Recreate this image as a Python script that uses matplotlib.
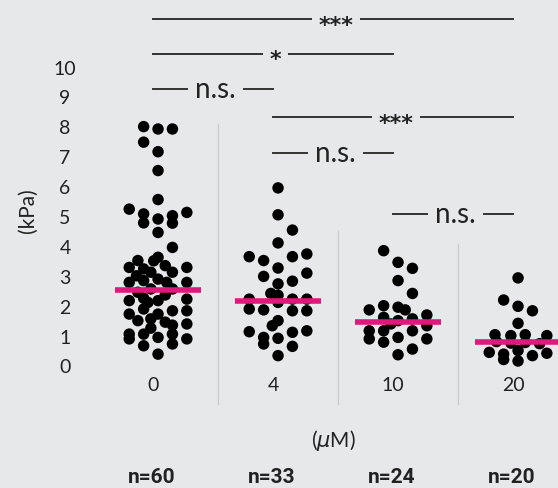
# Stiffness per concentration - dot plot with medians and significance bars

import matplotlib
matplotlib.use('Agg')
import matplotlib.pyplot as plt
import numpy as np

plt.rcParams['font.family'] = ['Lato', 'DejaVu Sans']
plt.rcParams['mathtext.fontset'] = 'dejavusans'

# Data
categories = ['0', '4', '10', '20']
n_labels = ['n=60', 'n=33', 'n=24', 'n=20']
y_ticks = [0, 1, 2, 3, 4, 5, 6, 7, 8, 9, 10]

# kPa values of each dot and its lane in the spread (lane -2 .. 2)
vals_0 = [8.04, 7.96, 7.96, 7.52, 7.20, 6.57, 5.60, 5.28, 5.12, 4.82, 4.95, 5.06,
          4.81, 5.17, 4.50, 4.00, 3.67, 3.56, 3.33, 3.28, 3.17, 3.39, 3.17, 3.33,
          2.83, 2.89, 2.94, 2.83, 2.83, 2.50, 2.61, 2.61, 2.22, 2.16, 2.22, 2.27,
          1.77, 1.94, 1.77, 1.88, 1.88, 1.55, 1.61, 1.50, 1.44, 1.10, 0.94, 1.10,
          0.71, 0.99, 1.10, 0.77, 0.94, 0.43, 2.41, 2.30, 3.55, 1.30, 1.40, 3.05]
lane_0 = [-1, 0, 1, -1, 0, 0, 0, -2, -1, -1, 0, 1,
          1, 2, 0, 1, 0, -1.4, -2, -1, -0.5, 0.5, 1, 2,
          -2, -1, 0, 0.6, 2, -1.4, -0.5, 1, -2, -0.7, 0, 2,
          -2, -1, 0, 1, 2, -1.4, -0.5, 0.5, 2, -2, -2, -1,
          -1, 0, 1, 1, 2, 0, 0.5, -1, -0.3, -0.5, 1, -1.5]

vals_4 = [5.99, 5.09, 4.58, 4.15, 3.69, 3.56, 3.69, 3.78, 3.31, 3.03, 3.14,
          2.87, 2.78, 2.46, 2.27, 2.16, 2.27, 2.27, 1.94, 1.91, 1.88, 1.88,
          1.55, 1.38, 1.18, 0.99, 0.77, 0.96, 1.16, 1.21, 0.69, 0.38, 2.40]
lane_4 = [0, 0, 1, 0, -2, -1, 1, 2, 0, -1, 2,
          1, 0, -0.5, -2, 0, 1, 2, -2, -1, 1, 2,
          0, -0.4, -2, -1, -1, 0, 1, 2, 1, 0, 0]

vals_10 = [3.89, 3.50, 3.30, 2.89, 2.46, 1.91, 2.05, 2.00, 1.91, 1.66, 1.55, 1.61,
           1.74, 1.21, 1.21, 1.21, 1.38, 0.94, 0.83, 0.99, 0.94, 0.60, 0.41, 1.44]
lane_10 = [-1, 0, 1, 0, 1, -2, -1, 0, 0.5, -1, 0, 1,
           2, -2, -1, 1, 2, -2, -1, 0, 2, 1, 0, -0.5]

vals_20 = [2.98, 2.24, 2.03, 1.88, 1.46, 1.08, 1.05, 1.08, 1.05, 0.49, 0.43, 0.55,
           0.38, 0.46, 0.85, 0.80, 0.82, 0.78, 0.20, 0.25]
lane_20 = [0, -1, 0, 1, 0, -1.6, -0.5, 0.5, 2, -2, -1, 0,
           1, 2, -1.5, -0.5, 0.5, 1.5, 0, -1]

medians = [2.58, 2.21, 1.50, 0.84]

# significance bars: (group from, group to, height, label)
sig_bars = [(0, 3, 11.64, '***'),
            (0, 2, 10.47, '*'),
            (0, 1, 9.30, 'n.s.'),
            (1, 3, 8.36, '***'),
            (1, 2, 7.16, 'n.s.'),
            (2, 3, 5.12, 'n.s.')]

# top of the faint separator lines between groups
sep_tops = [8.13, 4.55, 4.11]

bg = '#e7e8ea'
pink = '#dd1a7c'
lane_w = 0.12

fig = plt.figure(figsize=(5.58, 4.89), dpi=100, facecolor=bg)
ax = fig.add_axes([0, 0, 1, 1])
ax.set_facecolor(bg)
ax.set_xlim(-1.317, 3.333)
ax.set_ylim(-4.047, 12.308)
ax.axis('off')

# separators
for i, top in enumerate(sep_tops):
    ax.plot([i + 0.5, i + 0.5], [-1.24, top], color='#c9cacc', lw=0.9, zorder=1)

# dots
groups = [(vals_0, lane_0), (vals_4, lane_4), (vals_10, lane_10), (vals_20, lane_20)]
for i, (v, l) in enumerate(groups):
    x = i + np.array(l) * lane_w
    ax.scatter(x, v, s=68, color='black', edgecolors='none', zorder=3)

# median lines
for i, m in enumerate(medians):
    ax.plot([i - 0.36, i + 0.36], [m, m], color=pink, lw=4, solid_capstyle='butt', zorder=4)

# y tick labels and axis title
for t in y_ticks:
    ax.text(-0.775, t, str(t), ha='center', va='center', fontsize=14, color='#222222')
ax.text(-1.083, 5.25, '(kPa)', rotation=90, ha='center', va='center', fontsize=15, color='#222222')

# category labels, x title and group sizes
for i, c in enumerate(categories):
    ax.text(i - 0.04, -0.57, c, ha='center', va='center', fontsize=14, color='#222222')
ax.text(1.458, -2.41, r'($\mu$M)', ha='center', va='center', fontsize=15, color='#222222')
for i, n in enumerate(n_labels):
    ax.text(i - 0.05, -3.65, n, ha='center', va='center', fontsize=15, fontweight='bold',
            family=['Roboto', 'DejaVu Sans'], color='#222222')

# significance bars
for a, b, y, lab in sig_bars:
    ax.plot([a - 0.04, b - 0.04], [y, y], color='#333333', lw=1.4, zorder=2)
    if '*' in lab:
        kw = dict(xytext=(0, -8.3), fontsize=16, fontweight='bold', family=['DejaVu Sans'],
                  bbox=dict(boxstyle='square,pad=0.3', facecolor=bg, edgecolor='none'))
    else:
        kw = dict(xytext=(0, -5.8), fontsize=20,
                  bbox=dict(boxstyle='square,pad=0.25', facecolor=bg, edgecolor='none'))
    ax.annotate(lab, xy=((a + b) / 2 - 0.02, y), textcoords='offset points',
                ha='center', va='baseline', color='#222222', zorder=5, **kw)

fig.savefig('out.png', dpi=100, facecolor=bg)
